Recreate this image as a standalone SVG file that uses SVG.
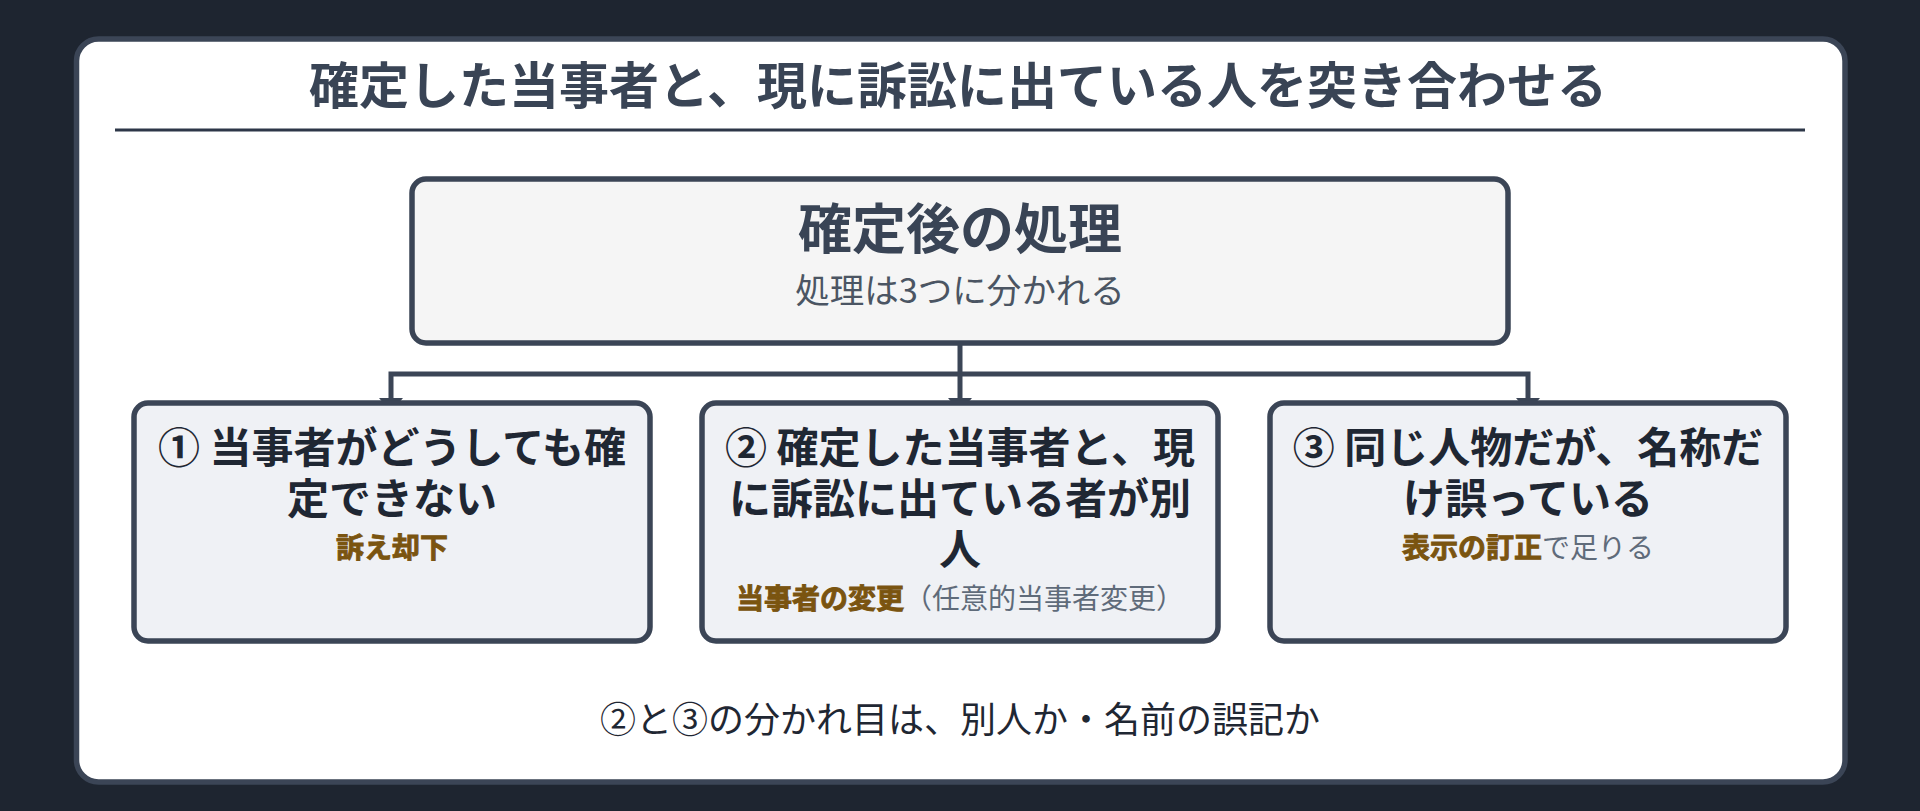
<svg xmlns="http://www.w3.org/2000/svg" width="1920" height="811" viewBox="0 0 1920 811">
<defs>
<style>
.jp{font-family:"Noto Sans CJK JP","Noto Sans",sans-serif;}
.title{font-size:50px;font-weight:700;fill:#394455;}
.ntitle{font-size:54px;font-weight:700;fill:#394455;}
.nsub{font-size:34.5px;font-weight:400;fill:#4b5563;}
.ctitle{font-size:42px;font-weight:700;fill:#1f2733;}
.res{font-size:28px;font-weight:700;fill:#7a5410;stroke:#7a5410;stroke-width:0.9px;}
.note{font-size:28px;font-weight:400;fill:#5f6b7a;}
.foot{font-size:36px;font-weight:400;fill:#1f2733;}
.box{fill:#eff1f5;stroke:#3b4556;stroke-width:5.5;}
.conn{fill:none;stroke:#3b4556;stroke-width:5;}
.head{fill:#3b4556;}
</style>
</defs>
<rect x="0" y="0" width="1920" height="811" fill="#1e2530"/>
<rect x="76.5" y="39" width="1768.5" height="743" rx="22" fill="#ffffff" stroke="#3b4556" stroke-width="5.5"/>
<g id="title">
<text class="jp title" x="958" y="104" text-anchor="middle">確定した当事者と、現に訴訟に出ている人を突き合わせる</text>
<line x1="115" y1="130" x2="1805" y2="130" stroke="#2d3748" stroke-width="3"/>
</g>
<g id="connectors">
<path class="conn" d="M960 343 V398 M391 398 V374 H1528 V398"/>
<polygon class="head" points="379,398 403,398 391,412"/>
<polygon class="head" points="948,398 972,398 960,412"/>
<polygon class="head" points="1516,398 1540,398 1528,412"/>
</g>
<g id="root">
<rect x="412" y="179" width="1096" height="164" rx="14" fill="#f5f5f5" stroke="#3b4556" stroke-width="5.5"/>
<text class="jp ntitle" x="960" y="249" text-anchor="middle">確定後の処理</text>
<text class="jp nsub" x="960" y="303" text-anchor="middle">処理は3つに分かれる</text>
</g>
<g id="case1">
<rect class="box" x="134" y="403" width="516" height="238" rx="14"/>
<text class="jp ctitle" text-anchor="middle"><tspan x="392" y="463">① 当事者がどうしても確</tspan><tspan x="392" y="514">定できない</tspan></text>
<text class="jp res" x="392" y="558" text-anchor="middle">訴え却下</text>
</g>
<g id="case2">
<rect class="box" x="702" y="403" width="516" height="238" rx="14"/>
<text class="jp ctitle" text-anchor="middle"><tspan x="960" y="463">② 確定した当事者と、現</tspan><tspan x="960" y="514">に訴訟に出ている者が別</tspan><tspan x="960" y="565">人</tspan></text>
<text class="jp" x="960" y="609" text-anchor="middle"><tspan class="res">当事者の変更</tspan><tspan class="note">（任意的当事者変更）</tspan></text>
</g>
<g id="case3">
<rect class="box" x="1270" y="403" width="516" height="238" rx="14"/>
<text class="jp ctitle" text-anchor="middle"><tspan x="1528" y="463">③ 同じ人物だが、名称だ</tspan><tspan x="1528" y="514">け誤っている</tspan></text>
<text class="jp" x="1528" y="558" text-anchor="middle"><tspan class="res">表示の訂正</tspan><tspan class="note">で足りる</tspan></text>
</g>
<g id="footnote">
<text class="jp foot" x="960" y="733" text-anchor="middle">②と③の分かれ目は、別人か・名前の誤記か</text>
</g>
</svg>
